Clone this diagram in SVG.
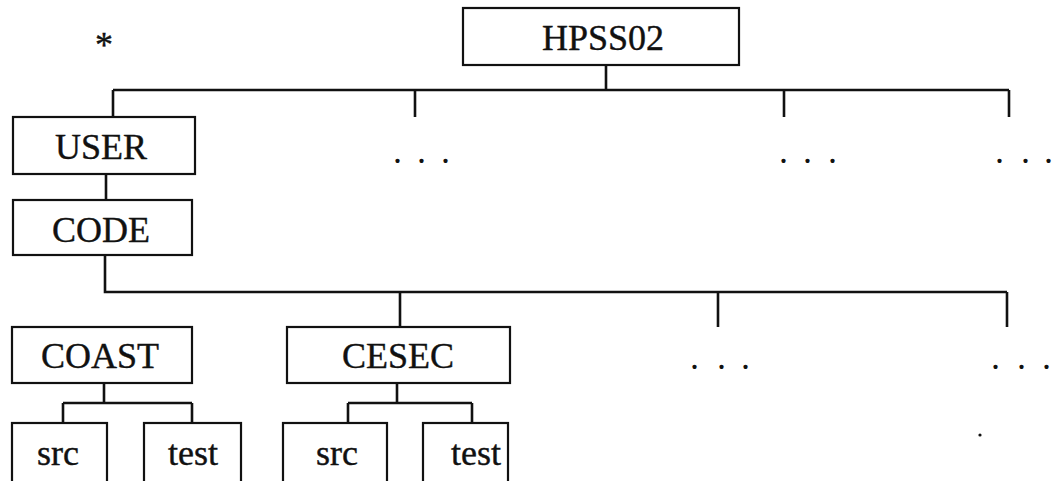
<svg xmlns="http://www.w3.org/2000/svg" width="1056" height="481" viewBox="0 0 1056 481">
<style>
.box{fill:#fff;stroke:#111;stroke-width:2.2}
.t{font-family:"Liberation Serif","Times New Roman",serif;font-size:36px;fill:#111;text-anchor:middle;stroke:#111;stroke-width:0.4}
.d{font-family:"Liberation Serif","Times New Roman",serif;font-size:36px;fill:#111}
#connectors path{fill:none;stroke:#111;stroke-width:2.6}
</style>
<rect width="1056" height="481" fill="#fff"/>
<g id="connectors">
<path d="M606 65V90M113 90H1009M113 90V117M415 90V117M784 90V117M1009 90V117"/>
<path d="M106 174V200"/>
<path d="M105 255V292H1007M400 292V327M718 292V327M1007 292V327"/>
<path d="M104 383V403M63 403H192M63 403V423M192 403V423"/>
<path d="M397 383V403M348 403H472M348 403V423M472 403V423"/>
</g>
<text class="t" x="104" y="57" font-size="32">*</text>
<g id="hpss02"><rect class="box" x="463" y="8" width="276" height="57"/><text class="t" x="603" y="50">HPSS02</text></g>
<g id="user"><rect class="box" x="13" y="117" width="182" height="57"/><text class="t" x="101" y="159">USER</text></g>
<g id="code"><rect class="box" x="13" y="200" width="179" height="55"/><text class="t" x="101" y="242">CODE</text></g>
<g id="dots1"><text class="d" x="393 417 441" y="163">...</text></g>
<g id="coast"><rect class="box" x="12" y="327" width="180" height="56"/><text class="t" x="100" y="368">COAST</text></g>
<g id="cesec"><rect class="box" x="287" y="327" width="223" height="56"/><text class="t" x="398" y="368">CESEC</text></g>
<g id="src1"><rect class="box" x="12" y="423" width="95" height="60"/><text class="t" x="58" y="465">src</text></g>
<g id="test1"><rect class="box" x="144" y="423" width="97" height="60"/><text class="t" x="193" y="465">test</text></g>
<g id="src2"><rect class="box" x="283" y="423" width="104" height="60"/><text class="t" x="337" y="465">src</text></g>
<g id="test2"><rect class="box" x="423" y="423" width="85" height="60"/><text class="t" x="476" y="465">test</text></g>
<g id="dots2"><text class="d" x="779 803 828" y="163">...</text></g>
<g id="dots3"><text class="d" x="995 1021 1044" y="163">...</text></g>
<g id="dots4"><text class="d" x="690 717 741" y="369">...</text></g>
<g id="dots5"><text class="d" x="991 1017 1042" y="369">...</text></g>
<circle cx="980" cy="435" r="1.6" fill="#111"/>
</svg>
